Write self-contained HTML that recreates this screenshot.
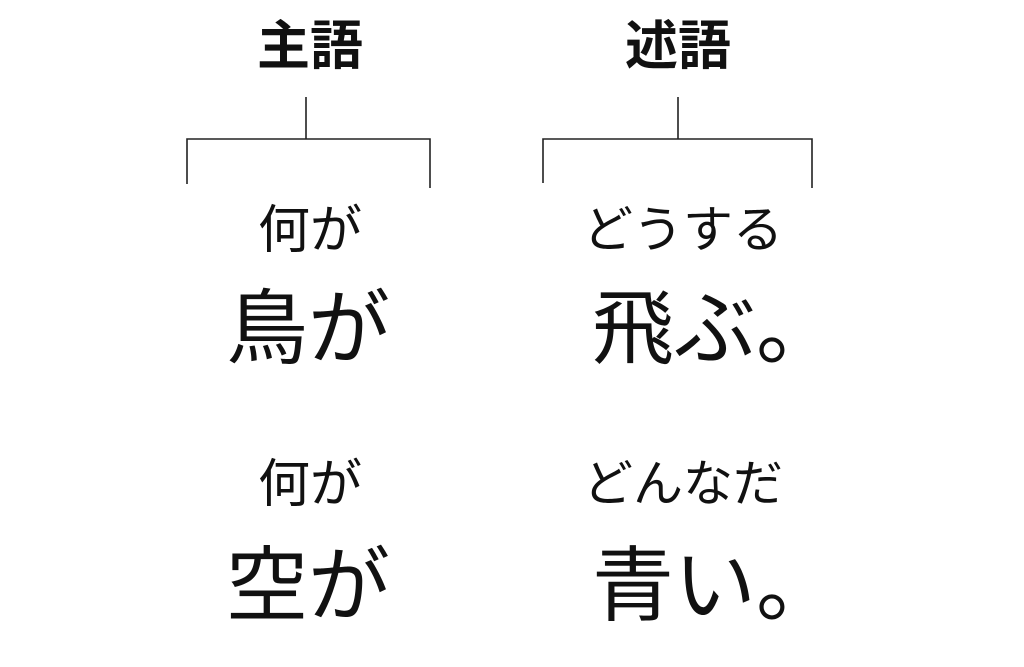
<!DOCTYPE html>
<html><head><meta charset="utf-8"><style>
body{margin:0;width:1024px;height:667px;background:#fff;position:relative;overflow:hidden;font-family:"Liberation Sans","Noto Sans CJK JP",sans-serif;color:#111}
.t{position:absolute;line-height:1;white-space:nowrap;text-align:center;width:400px}
</style></head><body>
<div class="t" style="left:110px;top:20px;font-size:53px;font-weight:bold">主語</div>
<div class="t" style="left:478px;top:20px;font-size:53px;font-weight:bold">述語</div>
<svg width="1024" height="667" style="position:absolute;left:0;top:0" fill="none" stroke="#222" stroke-width="1.6">
<path d="M306 97V139M187 184V139H430V188"/>
<path d="M678 97V139M543 183V139H812V188"/>
</svg>
<div class="t" style="left:110px;top:205px;font-size:52px">何が</div>
<div class="t" style="left:483px;top:205px;font-size:50px">どうする</div>
<div class="t" style="left:108px;top:289px;font-size:82px">鳥が</div>
<div class="t" style="left:515px;top:289px;font-size:82px">飛ぶ。</div>
<div class="t" style="left:110px;top:459px;font-size:52px">何が</div>
<div class="t" style="left:483px;top:459px;font-size:50px">どんなだ</div>
<div class="t" style="left:108px;top:546px;font-size:82px">空が</div>
<div class="t" style="left:515px;top:546px;font-size:82px">青い。</div>
</body></html>
